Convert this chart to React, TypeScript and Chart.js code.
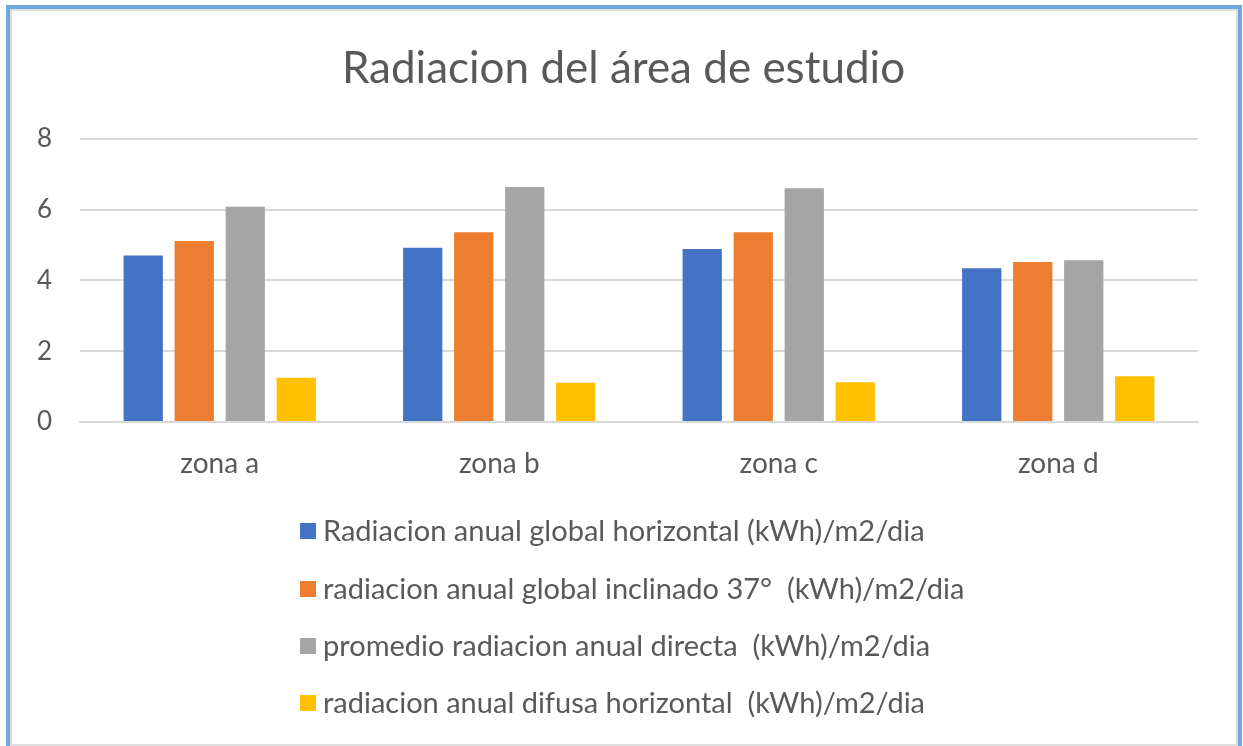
import React, { useEffect, useRef } from "react";
import { Chart, registerables } from "chart.js";

Chart.register(...registerables);

const categories = ["zona a", "zona b", "zona c", "zona d"];
const seriesLabels = [
  "Radiacion anual global horizontal (kWh)/m2/dia",
  "radiacion anual global inclinado 37°  (kWh)/m2/dia",
  "promedio radiacion anual directa  (kWh)/m2/dia",
  "radiacion anual difusa horizontal  (kWh)/m2/dia",
];
const globalHorizontal = [4.7, 4.92, 4.89, 4.34];
const globalInclinado = [5.11, 5.36, 5.36, 4.52];
const directa = [6.08, 6.64, 6.6, 4.57];
const difusa = [1.25, 1.11, 1.12, 1.29];
const seriesColors = ["#4472C4", "#ED7D31", "#A5A5A5", "#FFC000"];
const yTicks = [0, 2, 4, 6, 8];

const FONT = "Lato, 'Open Sans', sans-serif";
const TEXT = "#595959";

const titleShiftPlugin = {
  id: "titleShift",
  afterLayout(chart: any) {
    const t = chart.titleBlock;
    if (t) {
      t.left = 49;
      t.right = chart.chartArea.right;
    }
  },
};

const legendPlugin = {
  id: "stackedLegend",
  afterDraw(chart: any) {
    const ctx = chart.ctx;
    const startX = 300;
    const rows = [531, 589, 646, 703];
    ctx.save();
    ctx.font = `29px ${FONT}`;
    ctx.textBaseline = "middle";
    ctx.textAlign = "left";
    chart.data.datasets.forEach((ds: any, i: number) => {
      const y = rows[i];
      ctx.fillStyle = ds.backgroundColor;
      ctx.fillRect(startX, y - 8, 16, 16);
      ctx.fillStyle = TEXT;
      ctx.fillText(ds.label, startX + 23, y + 1);
    });
    ctx.restore();
  },
};

export default function App() {
  const ref = useRef<HTMLCanvasElement | null>(null);
  useEffect(() => {
    if (!ref.current) return;
    const data = [globalHorizontal, globalInclinado, directa, difusa];
    const chart = new Chart(ref.current, {
      type: "bar",
      data: {
        labels: categories,
        datasets: data.map((d, i) => ({
          label: seriesLabels[i],
          data: d,
          backgroundColor: seriesColors[i],
          borderWidth: 0,
          categoryPercentage: 0.73,
          barPercentage: 0.77,
        })),
      },
      options: {
        animation: false,
        responsive: true,
        maintainAspectRatio: false,
        layout: { padding: { left: 0, right: 45, top: 0, bottom: 264 } },
        plugins: {
          legend: { display: false },
          tooltip: { enabled: false },
          title: {
            display: true,
            text: "Radiacion del área de estudio",
            color: TEXT,
            font: { family: FONT, size: 44, weight: "normal" },
            padding: { top: 42, bottom: 44 },
          },
        },
        scales: {
          x: {
            grid: { display: false, drawTicks: false },
            border: { display: true, color: "#d9d9d9", width: 2 },
            ticks: {
              color: TEXT,
              font: { family: FONT, size: 28 },
              padding: 25,
            },
            afterFit: (s: any) => {
              s.height = 60;
            },
          },
          y: {
            min: 0,
            max: 8,
            afterBuildTicks: (s: any) => {
              s.ticks = yTicks.map((v) => ({ value: v }));
            },
            grid: { color: "#d9d9d9", lineWidth: 2, drawTicks: false },
            border: { display: false },
            ticks: {
              color: TEXT,
              font: { family: FONT, size: 26 },
              padding: 28,
            },
            afterFit: (s: any) => {
              s.width = 80;
            },
          },
        },
      },
      plugins: [titleShiftPlugin, legendPlugin],
    });
    return () => chart.destroy();
  }, []);

  return (
    <div style={{ position: "fixed", left: 0, top: 0, width: 1243, height: 746, background: "#fff", overflow: "hidden" }}>
      <div style={{ position: "absolute", left: 0, top: 0, width: 1243, height: 746 }}>
        <canvas ref={ref} />
      </div>
      <div
        style={{
          position: "absolute",
          left: 6,
          top: 5,
          width: 1236,
          height: 745,
          boxSizing: "border-box",
          border: "4px solid #6FA8DC",
          pointerEvents: "none",
        }}
      >
        <div style={{ position: "absolute", inset: 0, border: "2px solid #dedede" }} />
      </div>
    </div>
  );
}
